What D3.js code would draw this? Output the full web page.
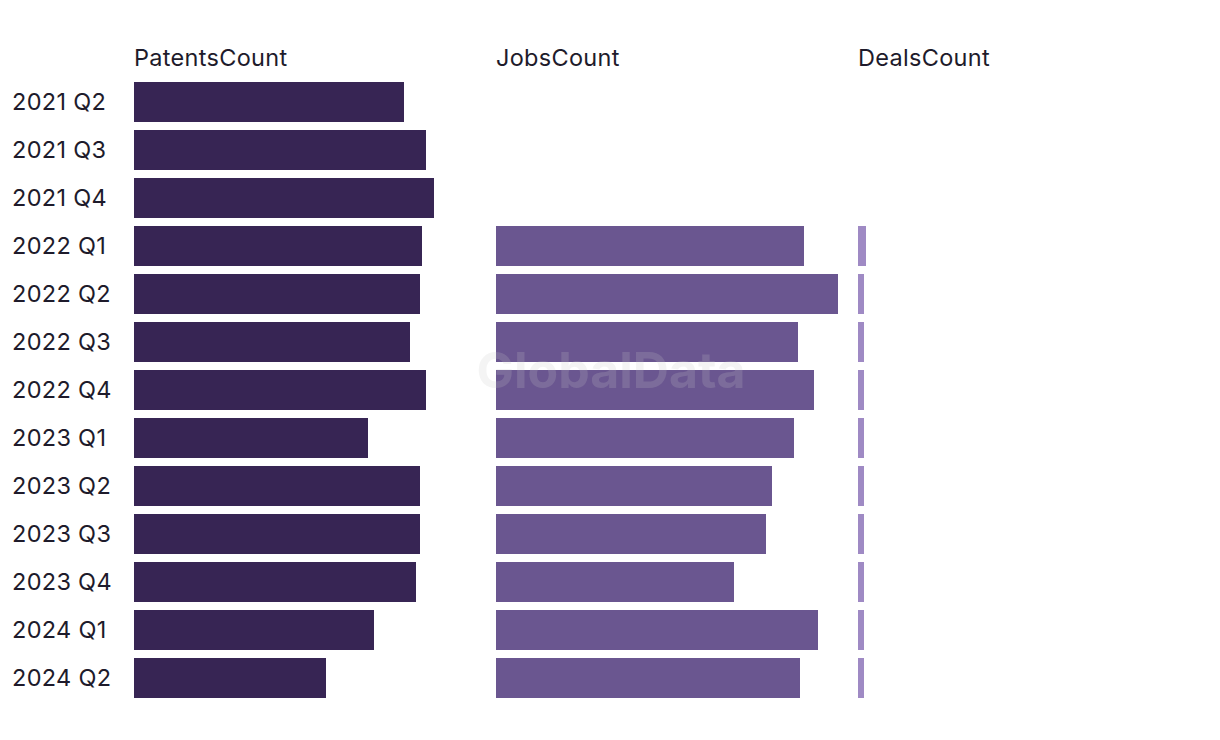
<!DOCTYPE html>
<html><head><meta charset="utf-8">
<script src="https://cdn.jsdelivr.net/npm/d3@7"></script>
<style>body{margin:0;background:#fff;} text{font-family:"Inter","Noto Sans",sans-serif;}</style>
</head><body>
<svg id="c" width="1220" height="740"></svg>
<script>
const categories = ["2021 Q2","2021 Q3","2021 Q4","2022 Q1","2022 Q2","2022 Q3","2022 Q4","2023 Q1","2023 Q2","2023 Q3","2023 Q4","2024 Q1","2024 Q2"];
const seriesNames = ["PatentsCount","JobsCount","DealsCount"];
const patentsCount = [135,146,150,144,143,138,146,117,143,143,141,120,96];
const jobsCount = [null,null,null,154,171,151,159,149,138,135,119,161,152];
const dealsCount = [null,null,null,4,3,3,3,3,3,3,3,3,3];
const colors = ["#372554","#6a5690","#9f8ac4"];

const svg = d3.select("#c");
const series = [patentsCount, jobsCount, dealsCount];
const panelX = d3.scalePoint().domain(seriesNames).range([134, 858]);
const x = d3.scaleLinear().domain([0, 181]).range([0, 362]);
const y = d3.scaleBand().domain(categories).range([78, 702]).paddingInner(8/48).paddingOuter(4/48);

svg.append("g").selectAll("text").data(categories).join("text")
  .attr("x", 12).attr("y", d => y(d) + y.bandwidth()/2)
  .attr("dy", "0.36em").attr("font-size", 23.5).attr("letter-spacing", 0.3).attr("fill", "#1e1b2b").text(d => d);

seriesNames.forEach((name, i) => {
  const g = svg.append("g").attr("transform", `translate(${panelX(name)},0)`);
  g.append("text").attr("x", 0).attr("y", 66).attr("font-size", 23.5).attr("letter-spacing", 0.3).attr("fill", "#1e1b2b").text(name);
  g.selectAll("rect").data(categories.map((c, j) => ({c, v: series[i][j]})).filter(d => d.v != null))
    .join("rect").attr("x", 0).attr("y", d => y(d.c)).attr("height", y.bandwidth())
    .attr("width", d => x(d.v)).attr("fill", colors[i]);
});

svg.append("text").attr("x", 611).attr("y", 388).attr("text-anchor", "middle")
  .attr("font-size", 50).attr("font-weight", "bold").attr("fill", "#c8c8c8").attr("fill-opacity", 0.2)
  .text("GlobalData");
</script>
</body></html>
